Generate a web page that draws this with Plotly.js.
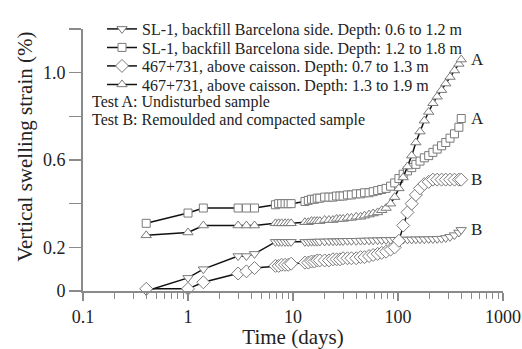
<!DOCTYPE html>
<html>
<head>
<meta charset="utf-8">
<script src="https://cdn.plot.ly/plotly-3.0.1.min.js"></script>
<style>html,body{margin:0;padding:0;background:#fff;}#chart{width:522px;height:349px;}</style>
</head>
<body>
<div id="chart"></div>
<script>
const days = [0.4, 1, 1.4, 3, 3.6, 4.3, 6.8, 7.3, 7.8, 8.4, 9, 9.6, 13, 14, 15, 16, 17, 18, 20, 22, 24, 26, 28, 30, 33, 36, 40, 44, 48, 53, 58, 64, 70, 77, 85, 93, 102, 112, 123, 135, 148, 162, 178, 196, 215, 236, 260, 285, 313, 345, 380, 400];

const sl1Shallow = [0, 0.06, 0.10, 0.16, 0.16, 0.17,
  0.225, 0.225, 0.225, 0.225, 0.225, 0.225,
  0.225, 0.225, 0.226, 0.226, 0.226, 0.227,
  0.227, 0.228, 0.228, 0.228, 0.229, 0.229,
  0.23, 0.23, 0.23, 0.231, 0.231,
  0.232, 0.232, 0.233, 0.233, 0.234,
  0.234, 0.235, 0.235, 0.236, 0.236,
  0.236, 0.237, 0.237, 0.237, 0.238,
  0.238, 0.239, 0.24, 0.243, 0.248,
  0.256, 0.268, 0.28];

const sl1Deep = [0.31, 0.357, 0.38, 0.38, 0.38, 0.38,
  0.395, 0.40, 0.40, 0.40, 0.40, 0.40,
  0.41, 0.415, 0.42, 0.42, 0.425, 0.425,
  0.43, 0.43, 0.43, 0.435, 0.435, 0.435,
  0.44, 0.44, 0.445, 0.445, 0.45,
  0.45, 0.455, 0.46, 0.465, 0.47,
  0.48, 0.495, 0.515, 0.535, 0.55,
  0.565, 0.58, 0.595, 0.61, 0.62,
  0.635, 0.65, 0.665, 0.68, 0.70,
  0.72, 0.75, 0.79];

const caissonShallow = [0.01, 0.01, 0.04, 0.08, 0.09, 0.105,
  0.115, 0.115, 0.12, 0.12, 0.12, 0.125,
  0.13, 0.13, 0.135, 0.135, 0.14, 0.14,
  0.14, 0.14, 0.145, 0.145, 0.145, 0.15,
  0.15, 0.15, 0.15, 0.155, 0.155,
  0.16, 0.165, 0.17, 0.175, 0.18,
  0.19, 0.20, 0.23, 0.30, 0.36,
  0.40, 0.44, 0.47, 0.49, 0.50,
  0.51, 0.51, 0.51, 0.51, 0.51,
  0.51, 0.51, 0.51];

const caissonDeep = [0.255, 0.268, 0.30, 0.30, 0.30, 0.30,
  0.31, 0.31, 0.31, 0.31, 0.31, 0.31,
  0.315, 0.315, 0.32, 0.32, 0.32, 0.32,
  0.325, 0.325, 0.325, 0.33, 0.33, 0.33,
  0.335, 0.335, 0.34, 0.34, 0.345,
  0.35, 0.355, 0.36, 0.37, 0.38,
  0.40, 0.43, 0.47, 0.52, 0.57,
  0.62, 0.68, 0.73, 0.78, 0.82,
  0.86, 0.89, 0.92, 0.95, 0.98,
  1.01, 1.04, 1.06];

const seriesNames = [
  "SL-1, backfill Barcelona side. Depth: 0.6 to 1.2 m",
  "SL-1, backfill Barcelona side. Depth: 1.2 to 1.8 m",
  "467+731, above caisson. Depth: 0.7 to 1.3 m",
  "467+731, above caisson. Depth: 1.3 to 1.9 m"
];
const endLabels = ["B", "A", "B", "A"];
const yTickVals = [0, 0.2, 0.4, 0.6, 0.8, 1.0, 1.2];
const yTickText = ["0", "0.2", "", "0.6", "", "1.0", ""];
const xTickVals = [0.1, 1, 10, 100, 1000];
const xTickText = ["0.1", "1", "10", "100", "1000"];
const noteLines = ["Test A: Undisturbed sample", "Test B: Remoulded and compacted sample"];
const xTitle = "Time (days)";
const yTitle = "Vertical swelling strain (%)";

const FONT = "Liberation Serif, Times New Roman, serif";
const TXT = "#222";
const AX = "#8a8a8a";
const MK = "#7a7a7a";

const L = 83, T = 22, W = 420, H = 269;
const px2x = p => (p - L) / W;
const px2y = p => 1 - (p - T) / H;

const valuesList = [sl1Shallow, sl1Deep, caissonShallow, caissonDeep];
const symbols = ["triangle-down", "square", "diamond", "triangle-up"];
const sizes = [9, 8, 10, 9];
const legendIds = ["legend", "legend2", "legend3", "legend4"];
const legendRowsPx = [22, 41, 60, 79];

const traces = valuesList.map((vals, i) => ({
  x: days, y: vals, name: seriesNames[i], type: "scatter", mode: "lines+markers",
  cliponaxis: false, legend: legendIds[i],
  line: {color: "#111", width: 1.5},
  marker: {symbol: symbols[i], size: sizes[i], color: "#fff", line: {color: MK, width: 1}}
}));

const annotations = valuesList.map((vals, i) => ({
  x: Math.log10(470), y: vals[vals.length - 1], xref: "x", yref: "y",
  text: endLabels[i], showarrow: false, xanchor: "left", yanchor: "middle",
  font: {family: FONT, size: 17, color: TXT}
}));
noteLines.forEach((t, i) => annotations.push({
  x: px2x(90), y: px2y(97 + i * 18), xref: "paper", yref: "paper", text: t, showarrow: false,
  xanchor: "left", yanchor: "middle", font: {family: FONT, size: 16, color: TXT}
}));
annotations.push({
  x: px2x(25), y: px2y(143), xref: "paper", yref: "paper", text: yTitle, showarrow: false,
  textangle: -90, xanchor: "center", yanchor: "middle", font: {family: FONT, size: 21, color: TXT}
});

const layout = {
  width: 522, height: 349,
  margin: {l: L, r: 522 - L - W, t: T, b: 349 - T - H},
  paper_bgcolor: "#fff", plot_bgcolor: "#fff",
  font: {family: FONT, color: TXT},
  showlegend: true,
  xaxis: {type: "log", range: [-1, 3], tickvals: xTickVals, ticktext: xTickText,
    ticks: "outside", ticklen: 8, tickwidth: 1.5, tickcolor: AX,
    minor: {dtick: "D1", ticks: "outside", ticklen: 6, tickwidth: 1, tickcolor: AX},
    showline: true, linecolor: AX, linewidth: 2, showgrid: false, zeroline: false,
    tickfont: {family: FONT, size: 18, color: TXT},
    title: {text: xTitle, font: {family: FONT, size: 21, color: TXT}, standoff: 2}},
  yaxis: {range: [0, 1.2], tickvals: yTickVals, ticktext: yTickText,
    ticks: "outside", ticklen: 12, tickwidth: 1.5, tickcolor: AX,
    showline: true, linecolor: AX, linewidth: 2, showgrid: false, zeroline: false,
    tickfont: {family: FONT, size: 18, color: TXT}},
  annotations: annotations
};
legendIds.forEach((id, i) => {
  layout[id] = {x: px2x(102), y: px2y(legendRowsPx[i]), xanchor: "left", yanchor: "middle",
    bgcolor: "rgba(0,0,0,0)", borderwidth: 0,
    font: {family: FONT, size: 16, color: TXT}};
});

Plotly.newPlot("chart", traces, layout, {displayModeBar: false, staticPlot: true});
</script>
</body>
</html>
